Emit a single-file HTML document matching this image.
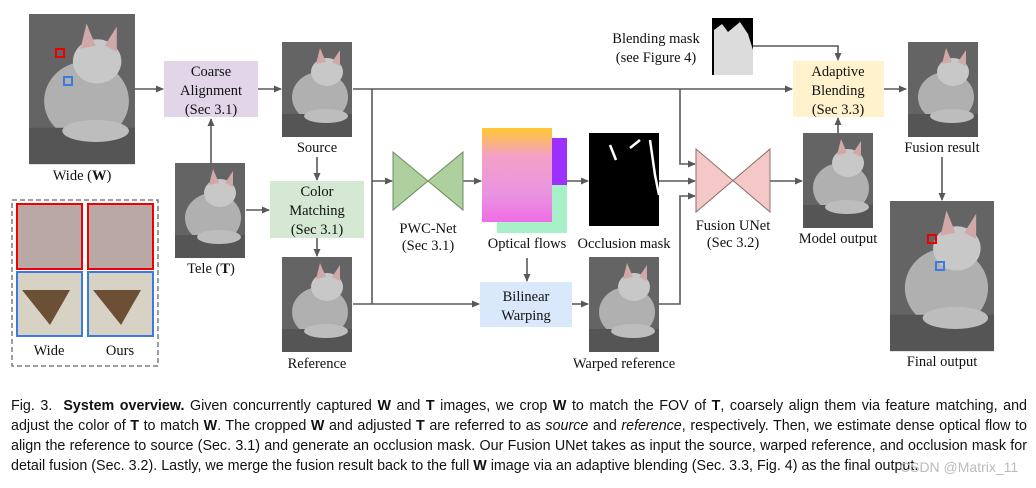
<!DOCTYPE html>
<html><head><meta charset="utf-8"><style>
body{margin:0;background:#fff;width:1036px;height:488px;overflow:hidden;position:relative;font-family:"Liberation Serif",serif}
svg{position:absolute;left:0;top:0}
.cap{position:absolute;left:11px;width:1016px;font-family:"Liberation Sans",sans-serif;font-size:14.3px;color:#111;line-height:20px;text-align:justify;text-align-last:justify;white-space:nowrap}
</style></head><body>
<svg width="1036" height="380" viewBox="0 0 1036 380" font-family="Liberation Serif, serif" font-size="14.5" fill="#111">
<defs>
<marker id="a" markerWidth="8" markerHeight="8" refX="7" refY="4" orient="auto" markerUnits="userSpaceOnUse"><path d="M0,0.5 L8,4 L0,7.5z" fill="#595959"/></marker>
<linearGradient id="fl" x1="0" y1="0" x2="0" y2="1"><stop offset="0" stop-color="#ffc830"/><stop offset="0.3" stop-color="#f4a0c8"/><stop offset="0.7" stop-color="#e894e0"/><stop offset="1" stop-color="#f06ce8"/></linearGradient>
<g id="cat">
<rect width="70" height="95" fill="#646464"/>
<ellipse cx="38" cy="55" rx="28" ry="25" fill="#b0b0b0"/>
<ellipse cx="45" cy="30" rx="16" ry="14" fill="#c8c8c8"/>
<path d="M34,22 L38,6 L44,20 M50,20 L58,8 L58,24" fill="#d0a8a8"/>
<rect y="72" width="70" height="23" fill="#555"/>
<ellipse cx="44" cy="74" rx="22" ry="7" fill="#bdbdbd"/>
</g>
</defs>
<g stroke="#595959" stroke-width="1.6" fill="none">
<line x1="135" y1="89" x2="163" y2="89" marker-end="url(#a)"/>
<line x1="258" y1="89" x2="281" y2="89" marker-end="url(#a)"/>
<line x1="353" y1="89" x2="792" y2="89" marker-end="url(#a)"/>
<line x1="211" y1="163" x2="211" y2="119" marker-end="url(#a)"/>
<line x1="317" y1="157" x2="317" y2="180" marker-end="url(#a)"/>
<line x1="246" y1="210" x2="269" y2="210" marker-end="url(#a)"/>
<line x1="317" y1="238" x2="317" y2="256" marker-end="url(#a)"/>
<line x1="372" y1="89" x2="372" y2="304"/>
<line x1="372" y1="181" x2="392" y2="181" marker-end="url(#a)"/>
<line x1="353" y1="304" x2="479" y2="304" marker-end="url(#a)"/>
<line x1="463" y1="181" x2="481" y2="181" marker-end="url(#a)"/>
<line x1="567" y1="181" x2="588" y2="181" marker-end="url(#a)"/>
<line x1="527" y1="258" x2="527" y2="281" marker-end="url(#a)"/>
<line x1="572" y1="304" x2="588" y2="304" marker-end="url(#a)"/>
<polyline points="659,304 680,304 680,196 695,196" marker-end="url(#a)"/>
<polyline points="680,89 680,164 695,164" marker-end="url(#a)"/>
<line x1="659" y1="181" x2="695" y2="181" marker-end="url(#a)"/>
<line x1="770" y1="181" x2="802" y2="181" marker-end="url(#a)"/>
<line x1="838" y1="133" x2="838" y2="118" marker-end="url(#a)"/>
<polyline points="753,46 838,46 838,60" marker-end="url(#a)"/>
<line x1="884" y1="89" x2="906" y2="89" marker-end="url(#a)"/>
<line x1="942" y1="157" x2="942" y2="200" marker-end="url(#a)"/>
</g>
<g transform="translate(29,14) scale(1.514,1.58)"><use href="#cat"/></g>
<rect x="56" y="49" width="8" height="8" fill="none" stroke="#e00" stroke-width="2"/>
<rect x="64" y="77" width="8" height="8" fill="none" stroke="#3a7be0" stroke-width="2"/>
<use href="#cat" transform="translate(282,42)"/>
<use href="#cat" transform="translate(175,163)"/>
<use href="#cat" transform="translate(282,257)"/>
<use href="#cat" transform="translate(589,257)"/>
<use href="#cat" transform="translate(803,133)"/>
<use href="#cat" transform="translate(908,42)"/>
<g transform="translate(890,201) scale(1.486,1.58)"><use href="#cat"/></g>
<rect x="928" y="235" width="8" height="8" fill="none" stroke="#e00" stroke-width="2"/>
<rect x="936" y="262" width="8" height="8" fill="none" stroke="#3a7be0" stroke-width="2"/>
<rect x="12" y="200" width="146" height="166" fill="none" stroke="#666" stroke-width="1.3" stroke-dasharray="5,3"/>
<rect x="17" y="204" width="65" height="65" fill="#b9a8a6" stroke="#e00" stroke-width="2"/>
<rect x="88" y="204" width="65" height="65" fill="#b9a8a6" stroke="#e00" stroke-width="2"/>
<rect x="17" y="272" width="65" height="64" fill="#d8d2c4" stroke="#3a7be0" stroke-width="2"/>
<rect x="88" y="272" width="65" height="64" fill="#d8d2c4" stroke="#3a7be0" stroke-width="2"/>
<path d="M22,290 L70,290 L50,325z M93,290 L141,290 L121,325z" fill="#6b5036"/>
<rect x="497" y="138" width="70" height="95" fill="#9b30ff"/>
<rect x="497" y="185" width="70" height="48" fill="#a8f0c8"/>
<rect x="482" y="128" width="70" height="94" fill="url(#fl)"/>
<rect x="589" y="133" width="70" height="93" fill="#000"/>
<path d="M610,145 L616,160 M630,148 L640,140 M650,140 L655,175 L659,195" stroke="#fff" stroke-width="2.5" fill="none"/>
<rect x="712" y="18" width="41" height="57" fill="#000"/>
<path d="M714,75 L714,30 L722,24 L728,32 L740,22 L748,34 L753,50 L753,75z" fill="#dcdcdc"/>
<rect x="164" y="61" width="94" height="56" fill="#e1d5e7"/>
<rect x="270" y="181" width="94" height="57" fill="#d5e8d4"/>
<rect x="480" y="282" width="92" height="45" fill="#dae8fc"/>
<rect x="793" y="61" width="91" height="56" fill="#fff2cc"/>
<path d="M393,152 L463,210 L463,152 L393,210z" fill="#aed09e" stroke="#6d8c60" stroke-width="1"/>
<path d="M696,149 L770,212 L770,149 L696,212z" fill="#f3c8c6" stroke="#8c7070" stroke-width="1"/>
<g text-anchor="middle">
<text x="211" y="76">Coarse</text><text x="211" y="95">Alignment</text><text x="211" y="114">(Sec 3.1)</text>
<text x="317" y="196">Color</text><text x="317" y="215">Matching</text><text x="317" y="234">(Sec 3.1)</text>
<text x="526" y="301">Bilinear</text><text x="526" y="320">Warping</text>
<text x="838" y="76">Adaptive</text><text x="838" y="95">Blending</text><text x="838" y="114">(Sec 3.3)</text>
<text x="82" y="180">Wide (<tspan font-weight="bold">W</tspan>)</text>
<text x="211" y="273">Tele (<tspan font-weight="bold">T</tspan>)</text>
<text x="317" y="152">Source</text>
<text x="317" y="368">Reference</text>
<text x="49" y="355">Wide</text><text x="120" y="355">Ours</text>
<text x="428" y="233">PWC-Net</text><text x="428" y="250">(Sec 3.1)</text>
<text x="527" y="248">Optical flows</text>
<text x="624" y="248">Occlusion mask</text>
<text x="624" y="368">Warped reference</text>
<text x="733" y="230">Fusion UNet</text><text x="733" y="247">(Sec 3.2)</text>
<text x="838" y="243">Model output</text>
<text x="656" y="43">Blending mask</text><text x="656" y="62">(see Figure 4)</text>
<text x="942" y="152">Fusion result</text>
<text x="942" y="366">Final output</text>
</g>
</svg>
<div class="cap" style="top:396px">Fig. 3.&nbsp; <b>System overview.</b> Given concurrently captured <b>W</b> and <b>T</b> images, we crop <b>W</b> to match the FOV of <b>T</b>, coarsely align them via feature matching, and</div>
<div class="cap" style="top:416px">adjust the color of <b>T</b> to match <b>W</b>. The cropped <b>W</b> and adjusted <b>T</b> are referred to as <i>source</i> and <i>reference</i>, respectively. Then, we estimate dense optical flow to</div>
<div class="cap" style="top:436px">align the reference to source (Sec. 3.1) and generate an occlusion mask. Our Fusion UNet takes as input the source, warped reference, and occlusion mask for</div>
<div class="cap" style="top:456px;width:auto;text-align-last:auto">detail fusion (Sec. 3.2). Lastly, we merge the fusion result back to the full <b>W</b> image via an adaptive blending (Sec. 3.3, Fig. 4) as the final output.</div>
<div style="position:absolute;left:900px;top:459px;font-family:'Liberation Sans',sans-serif;font-size:14px;color:#bbb">CSDN @Matrix_11</div>
</body></html>
